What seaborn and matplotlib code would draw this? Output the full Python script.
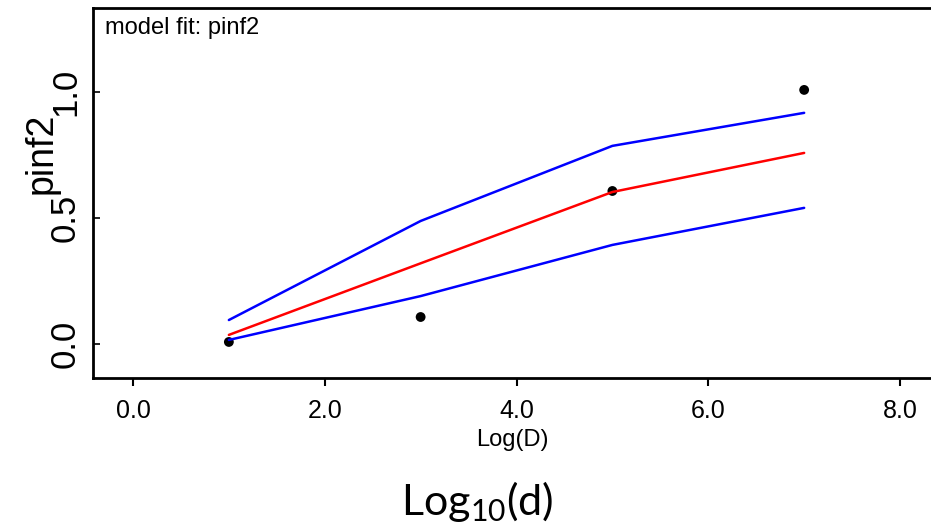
import pandas as pd
import seaborn as sns
import matplotlib.pyplot as plt

# datos
log_d = [1, 3, 5, 7]
observed = [0.008, 0.107, 0.607, 1.008]
fit_mid = [0.036, 0.32, 0.603, 0.758]
fit_upper = [0.095, 0.488, 0.786, 0.917]
fit_lower = [0.016, 0.19, 0.393, 0.54]
x_ticks = [0, 2, 4, 6, 8]
y_ticks = [0.0, 0.5, 1.0]

df = pd.DataFrame({'logd': log_d, 'obs': observed, 'mid': fit_mid,
                   'upper': fit_upper, 'lower': fit_lower})

sns.set_style('white')
plt.rcParams['font.family'] = ['Liberation Sans', 'DejaVu Sans']
for key in ['text.color', 'axes.labelcolor', 'xtick.color', 'ytick.color']:
    plt.rcParams[key] = 'black'

fig = plt.figure(figsize=(9.31, 5.31), dpi=100)
# el borde derecho queda fuera de la imagen, como en el original
ax = fig.add_axes([93 / 931, 153 / 531, 850 / 931, 370 / 531])

sns.lineplot(data=df, x='logd', y='upper', color='#0000FF', lw=1.8, ax=ax)
sns.lineplot(data=df, x='logd', y='lower', color='#0000FF', lw=1.8, ax=ax)
sns.lineplot(data=df, x='logd', y='mid', color='#FF0000', lw=1.8, ax=ax)
sns.scatterplot(data=df, x='logd', y='obs', color='black', s=50, edgecolor='none', ax=ax)

ax.set_xlim(-0.417, 8.448)
ax.set_ylim(-0.135, 1.333)
ax.set_xticks(x_ticks)
ax.set_xticklabels([f'{v:.1f}' for v in x_ticks], fontsize=18)
ax.set_yticks(y_ticks)
ax.set_yticklabels([f'{v:.1f}' for v in y_ticks], fontsize=25, rotation=90, va='center')
ax.tick_params(axis='x', direction='out', length=6, width=1.5, pad=9, bottom=True)
ax.tick_params(axis='y', direction='in', length=5, width=1.2, pad=8, left=True)

for side in ['left', 'bottom', 'top']:
    ax.spines[side].set_linewidth(2)
    ax.spines[side].set_color('black')
ax.spines['right'].set_visible(False)
ax.set_xlabel('')
ax.set_ylabel('')

ax.text(12 / 850, 0.975, 'model fit: pinf2', transform=ax.transAxes,
        ha='left', va='top', fontsize=17)

fig.text(512 / 931, 1 - 440 / 531, 'Log(D)', ha='center', va='center', fontsize=17)
fig.text(42 / 931, 1 - 153 / 531, 'pinf2', ha='center', va='center',
         rotation=90, fontsize=27)
fig.text(477 / 931, 1 - 515 / 531, r'Log$_\mathregular{10}$(d)', ha='center',
         va='baseline', fontsize=31, family='Lato')

fig.savefig('out.png', dpi=100)
